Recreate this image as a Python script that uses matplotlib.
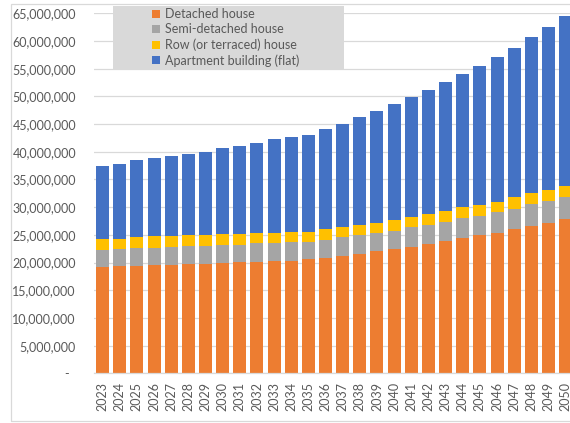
import matplotlib
matplotlib.use("Agg")
import matplotlib.pyplot as plt
from matplotlib.patches import Rectangle, Patch
from matplotlib.ticker import FuncFormatter, MultipleLocator

plt.rcParams['font.family'] = ['Lato', 'DejaVu Sans']

# Housing stock projection by dwelling type (millions of units)
years = list(range(2023, 2051))
detached = [19.15, 19.39, 19.39, 19.57, 19.57, 19.80, 19.80, 19.98, 20.16, 20.16,
            20.34, 20.34, 20.60, 20.83, 21.25, 21.60, 22.09, 22.51, 22.87, 23.36,
            23.95, 24.38, 24.98, 25.40, 26.06, 26.61, 27.20, 27.92]
semi_detached = [3.12, 3.01, 3.25, 3.07, 3.30, 3.20, 3.25, 3.20, 3.07, 3.32,
                 3.14, 3.38, 3.12, 3.25, 3.31, 3.32, 3.20, 3.22, 3.50, 3.43,
                 3.43, 3.67, 3.49, 3.68, 3.67, 3.91, 3.92, 3.87]
row_house = [2.04, 1.91, 1.93, 2.11, 1.88, 1.98, 1.87, 1.92, 1.93, 1.92,
             1.92, 1.86, 1.86, 1.98, 1.92, 1.87, 1.91, 1.96, 1.92, 1.93,
             1.93, 1.93, 1.93, 1.91, 2.11, 1.98, 1.98, 2.09]
apartment = [13.13, 13.49, 13.89, 14.08, 14.49, 14.68, 15.10, 15.64, 15.94, 16.19,
             16.85, 17.04, 17.45, 18.00, 18.60, 19.41, 20.16, 20.88, 21.60, 22.38,
             23.23, 24.06, 25.09, 26.12, 26.95, 28.17, 29.43, 30.58]

series_names = ["Detached house", "Semi-detached house",
                "Row (or terraced) house", "Apartment building (flat)"]
series_values = [detached, semi_detached, row_house, apartment]
colors = ["#ED7D31", "#A5A5A5", "#FFC000", "#4472C4"]

W, H = 570, 423
fig = plt.figure(figsize=(W / 100, H / 100), dpi=100)
fig.patch.set_facecolor("white")

def px(x0, y0, x1, y1):
    # pixel box (top-left origin) -> figure fraction rect
    return [x0 / W, 1 - y1 / H, (x1 - x0) / W, (y1 - y0) / H]

ax = fig.add_axes(px(94, 13.3, 574.2, 373.4))

x = list(range(len(years)))
bottom = [0.0] * len(years)
for name, vals, col in zip(series_names, series_values, colors):
    v = [a * 1e6 for a in vals]
    ax.bar(x, v, width=0.76, bottom=bottom, color=col, label=name, zorder=2,
           linewidth=0)
    bottom = [b + c for b, c in zip(bottom, v)]

ax.set_xlim(-0.5, len(years) - 0.5)
ax.set_ylim(0, 65e6)
ax.yaxis.set_major_locator(MultipleLocator(5e6))
ax.yaxis.set_major_formatter(FuncFormatter(
    lambda v, p: "-  " if v == 0 else f"{int(round(v)):,}"))
ax.grid(axis="y", color="#D9D9D9", linewidth=0.9, zorder=0)
ax.set_axisbelow(True)
for s in ["top", "right", "left"]:
    ax.spines[s].set_visible(False)
ax.spines["bottom"].set_color("#D9D9D9")
ax.spines["bottom"].set_linewidth(0.9)

ax.set_xticks(x)
ax.set_xticklabels([str(y) for y in years], rotation=90)
ax.tick_params(axis="x", length=0, pad=6, labelsize=9, labelcolor="#595959")
ax.tick_params(axis="y", length=0, pad=13, labelsize=9, labelcolor="#595959")

# chart border
fig.patches.append(Rectangle((11 / W, 1 - 421 / H), 600 / W, 417 / H,
                             transform=fig.transFigure, fill=False,
                             edgecolor="#D9D9D9", linewidth=0.9, zorder=0))

# legend panel
fig.patches.append(Rectangle((113 / W, 1 - 69 / H), (344 - 113) / W, (69 - 6) / H,
                             transform=fig.transFigure, facecolor="#D9D9D9",
                             edgecolor="none", zorder=3))
handles = [Patch(facecolor=c, edgecolor="none") for c in colors]
leg = fig.legend(handles, series_names, loc="upper left",
                 bbox_to_anchor=(152 / W, 1 - 8 / H), frameon=False,
                 fontsize=9, handlelength=0.6, handleheight=0.6,
                 handletextpad=0.45, labelspacing=0.26, borderpad=0,
                 borderaxespad=0)
for t in leg.get_texts():
    t.set_color("#595959")
leg.set_zorder(4)

fig.savefig("out.png", dpi=100)
